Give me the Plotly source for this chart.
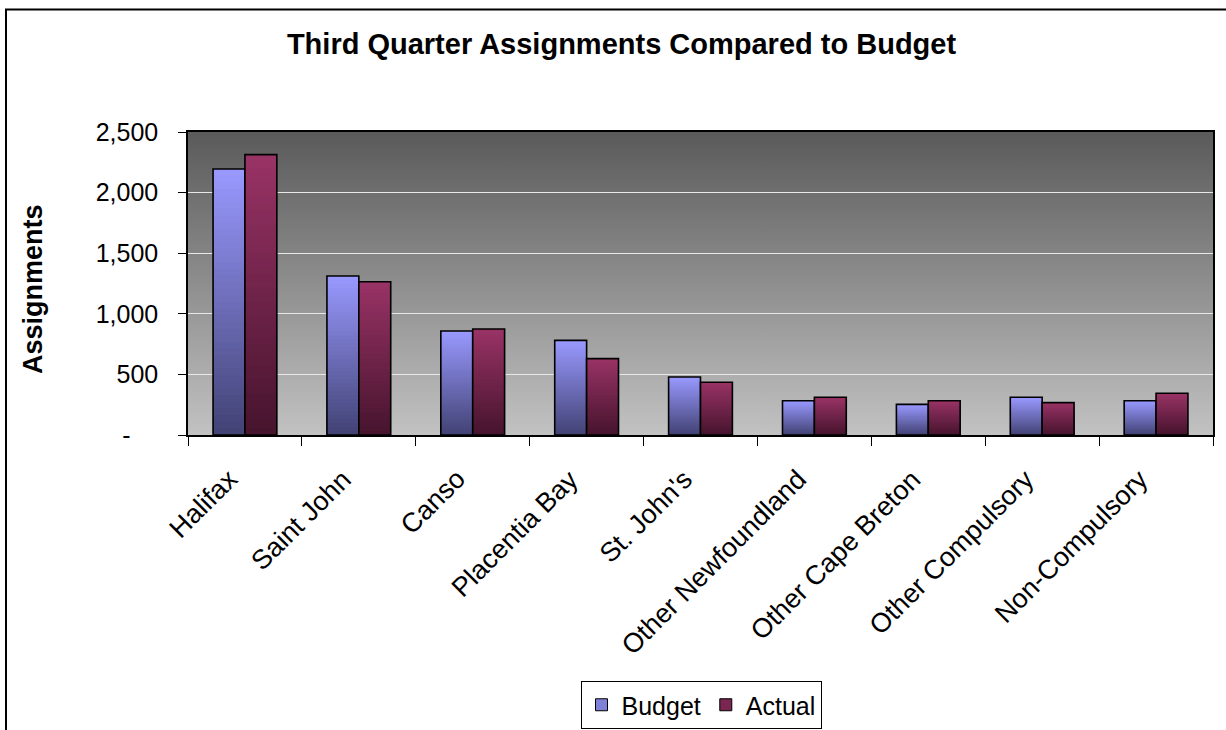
import plotly.graph_objects as go

categories = ["Halifax", "Saint John", "Canso", "Placentia Bay", "St. John's",
              "Other Newfoundland", "Other Cape Breton", "Other Compulsory", "Non-Compulsory"]
budget = [2195, 1312, 858, 781, 478, 283, 253, 311, 283]
actual = [2313, 1265, 875, 630, 435, 311, 283, 267, 344]
y_tickvals = [0, 500, 1000, 1500, 2000, 2500]
y_ticktext = ["-\u00a0\u00a0\u00a0\u00a0", "500", "1,000", "1,500", "2,000", "2,500"]

FONT = "Liberation Sans, Arial, sans-serif"
N = 40

# plot-area geometry (pixels)
PL, PR, PT, PB = 188, 1213, 132, 435
PW, PH = PR - PL, PB - PT

def px_x(x):
    return (x - PL) / PW

def px_y(y):
    return (PB - y) / PH

def lerp(c0, c1, t):
    return "rgb(%d,%d,%d)" % tuple(round(a + (b - a) * t) for a, b in zip(c0, c1))

series = [
    ("Budget", budget, "b", (153, 153, 255), (66, 66, 116), "rgb(128,128,215)"),
    ("Actual", actual, "a", (153, 51, 102), (70, 20, 45), "rgb(122,38,80)"),
]

fig = go.Figure()
for name, vals, grp, top, bot, mid in series:
    fig.add_trace(go.Bar(x=categories, y=[None] * len(categories), name=name,
                         offsetgroup=grp, marker=dict(color=mid, line=dict(color="black", width=1)),
                         legendgroup=name, showlegend=True, hoverinfo="skip"))
    for k in range(N):
        f = 1 - k / N
        t = f - 0.5 / N
        fig.add_trace(go.Bar(x=categories, y=[v * f for v in vals], offsetgroup=grp,
                             marker=dict(color=lerp(bot, top, t), line=dict(width=0)),
                             legendgroup=name, showlegend=False, hoverinfo="skip"))
    fig.add_trace(go.Bar(x=categories, y=vals, offsetgroup=grp, name=name,
                         marker=dict(color="rgba(0,0,0,0)", line=dict(color="black", width=1.6)),
                         legendgroup=name, showlegend=False))

grad_svg = ("data:image/svg+xml;utf8,<svg xmlns='http://www.w3.org/2000/svg' width='10' height='100' "
            "preserveAspectRatio='none'><defs><linearGradient id='g' x1='0' y1='0' x2='0' y2='1'>"
            "<stop offset='0' stop-color='%235a5a5a'/><stop offset='1' stop-color='%23c2c2c2'/>"
            "</linearGradient></defs><rect width='10' height='100' fill='url(%23g)'/></svg>")

cat_labels = [dict(text=c, x=c, xref="x", yref="paper", y=px_y(461), xanchor="right", yanchor="top",
                   xshift=1, textangle=-45, showarrow=False,
                   font=dict(family=FONT, size=27, color="black")) for c in categories]

fig.update_layout(
    width=1226, height=730,
    margin=dict(l=PL, r=1226 - PR, t=PT, b=730 - PB, autoexpand=False),
    paper_bgcolor="white", plot_bgcolor="rgba(0,0,0,0)",
    barmode="group", bargap=0.44, bargroupgap=0,
    font=dict(family=FONT, size=25, color="black"),
    title=dict(text="<b>Third Quarter Assignments Compared to Budget</b>",
               font=dict(family=FONT, size=29, color="black"),
               x=621.5 / 1226, xref="container", xanchor="center",
               y=1 - 44 / 730, yref="container", yanchor="middle"),
    showlegend=True,
    legend=dict(orientation="h", x=px_x(701), xanchor="center", y=px_y(681), yanchor="top",
                bordercolor="black", borderwidth=1, bgcolor="white",
                font=dict(family=FONT, size=25), traceorder="normal"),
    images=[dict(source=grad_svg, xref="paper", yref="paper", x=0, y=1, sizex=1, sizey=1,
                 xanchor="left", yanchor="top", sizing="stretch", layer="below")],
    shapes=[dict(type="line", xref="paper", yref="paper",
                 x0=px_x(6), x1=px_x(6), y0=px_y(9.5), y1=px_y(760),
                 line=dict(color="black", width=2), layer="below"),
            dict(type="line", xref="paper", yref="paper",
                 x0=px_x(5), x1=px_x(1260), y0=px_y(9.5), y1=px_y(9.5),
                 line=dict(color="black", width=2), layer="below")],
    annotations=[dict(text="<b>Assignments</b>", textangle=-90, xref="paper", yref="paper",
                      x=px_x(33), y=px_y(289), xanchor="center", yanchor="middle",
                      showarrow=False, font=dict(family=FONT, size=27, color="black"))] + cat_labels,
    hovermode="closest",
)

fig.update_xaxes(type="category", range=[-0.5, len(categories) - 0.5], autorange=False,
                 tickson="boundaries", ticks="outside", ticklen=9,
                 tickcolor="black", tickwidth=1, showticklabels=False, showgrid=False,
                 showline=True, linecolor="black", linewidth=1.5, mirror=True)
fig.update_yaxes(range=[0, 2500], autorange=False, tickvals=y_tickvals, ticktext=y_ticktext,
                 ticks="outside", ticklen=8, tickcolor="black", tickwidth=1,
                 showgrid=True, gridcolor="rgb(232,232,232)", gridwidth=1,
                 zeroline=False, showline=True, linecolor="black", linewidth=1.5, mirror=True,
                 ticklabelstandoff=15, tickfont=dict(family=FONT, size=25))

fig.write_html("out.html", config={"displayModeBar": False},
               post_script="document.body.style.margin='0px';document.body.style.overflow='hidden';")
